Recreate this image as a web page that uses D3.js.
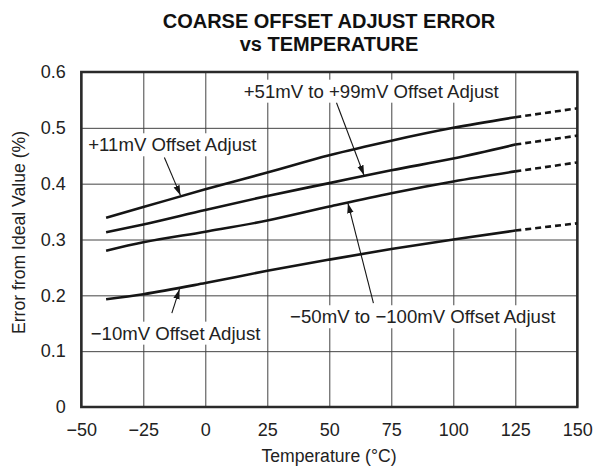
<!DOCTYPE html>
<html>
<head>
<meta charset="utf-8">
<script src="https://cdn.jsdelivr.net/npm/d3@7"></script>
<style>
body{margin:0;background:#fff;}
text{font-family:"Liberation Sans",Arial,Helvetica,sans-serif;fill:#222;}
</style>
</head>
<body>
<div id="container"></div>
<script>
// temperature (°C) and error (%)
const temps = [-40, -25, 0, 25, 50, 75, 100, 125, 150];
const errP11 = [0.339, 0.358, 0.390, 0.420, 0.451, 0.477, 0.500, 0.519, 0.535];
const errP51 = [0.313, 0.327, 0.353, 0.378, 0.401, 0.424, 0.445, 0.470, 0.486];
const errM50 = [0.280, 0.295, 0.314, 0.334, 0.359, 0.383, 0.404, 0.422, 0.438];
const errM10 = [0.193, 0.202, 0.222, 0.244, 0.264, 0.283, 0.300, 0.316, 0.329];
const seriesNames = ["+11mV Offset Adjust", "+51mV to +99mV Offset Adjust",
                     "\u221250mV to \u2212100mV Offset Adjust", "\u221210mV Offset Adjust"];
const xTicks = [-50, -25, 0, 25, 50, 75, 100, 125, 150];
const yTicks = [0, 0.1, 0.2, 0.3, 0.4, 0.5, 0.6];
const lastMeasured = 125; // dashed after this

// label anchors and arrows, in chart units (°C, %)
const labelAt   = [[-47.2, 0.458], [15.5, 0.554], [34.2, 0.150], [-46.2, 0.1206]];
const arrowFrom = [[-16.5, 0.447], [52.9, 0.545], [67.8, 0.186], [-13.5, 0.168]];
const arrowTo   = [[-10, 0.379], [64, 0.415], [57.5, 0.365], [-10.4, 0.211]];

const width = 593, height = 470;
const plotL = 81.3, plotR = 577.3, plotT = 72, plotB = 407;

const svg = d3.select("#container")
  .append("svg")
  .attr("width", width)
  .attr("height", height);

const x = d3.scaleLinear().domain([-50, 150]).range([plotL, plotR]);
const y = d3.scaleLinear().domain([0, 0.6]).range([plotB, plotT]);

// title, two lines
[["COARSE OFFSET ADJUST ERROR", 27.5], ["vs TEMPERATURE", 50.5]].forEach(t => {
  svg.append("text")
    .attr("x", 329).attr("y", t[1])
    .attr("text-anchor", "middle")
    .style("font-weight", "bold")
    .style("font-size", "20px")
    .style("fill", "#111")
    .text(t[0]);
});

// grid + ticks
const xAxis = d3.axisBottom(x).tickValues(xTicks).tickSize(-(plotB - plotT))
  .tickPadding(16.7).tickFormat(d3.format("d"));
const yAxis = d3.axisLeft(y).tickValues(yTicks).tickSize(-(plotR - plotL))
  .tickPadding(15.6).tickFormat(d => d === 0 ? "0" : d3.format(".1f")(d));

const gx = svg.append("g").attr("transform", "translate(0," + plotB + ")").call(xAxis);
const gy = svg.append("g").attr("transform", "translate(" + plotL + ",0)").call(yAxis);
[gx, gy].forEach(g => {
  g.select(".domain").remove();
  g.selectAll(".tick line").attr("stroke", "#444").attr("stroke-width", 1);
  g.selectAll(".tick text").style("font-size", "18px").style("font-family", "'Liberation Sans',Arial,sans-serif").attr("fill", "#222");
});

// axis titles
svg.append("text")
  .attr("x", 329).attr("y", 461.5)
  .attr("text-anchor", "middle")
  .style("font-size", "17.6px")
  .text("Temperature (\u00B0C)");

svg.append("text")
  .attr("transform", "translate(24.5,232.5) rotate(-90)")
  .attr("text-anchor", "middle")
  .style("font-size", "17.6px")
  .text("Error from Ideal Value (%)");

// labels with white boxes knocking out the grid
const labels = svg.append("g");
seriesNames.forEach((name, i) => {
  const g = labels.append("g");
  const t = g.append("text")
    .attr("x", x(labelAt[i][0]))
    .attr("y", y(labelAt[i][1]))
    .style("font-size", "18.6px")
    .text(name);
  const b = t.node().getBBox();
  g.insert("rect", "text")
    .attr("x", b.x - 3).attr("y", b.y - 1)
    .attr("width", b.width + 6).attr("height", b.height + 2)
    .attr("fill", "#fff");
});

// border
svg.append("rect")
  .attr("x", plotL).attr("y", plotT)
  .attr("width", plotR - plotL).attr("height", plotB - plotT)
  .attr("fill", "none")
  .attr("stroke", "#2a2a2a")
  .attr("stroke-width", 2.5);

// curves
const line = d3.line()
  .x(d => x(d[0]))
  .y(d => y(d[1]))
  .curve(d3.curveMonotoneX);

[errP11, errP51, errM50, errM10].forEach(vals => {
  const pts = temps.map((t, i) => [t, vals[i]]);
  svg.append("path")
    .datum(pts.filter(p => p[0] <= lastMeasured))
    .attr("d", line)
    .attr("fill", "none")
    .attr("stroke", "#151515")
    .attr("stroke-width", 2.6);
  svg.append("path")
    .datum(pts.filter(p => p[0] >= lastMeasured))
    .attr("d", line)
    .attr("fill", "none")
    .attr("stroke", "#151515")
    .attr("stroke-width", 2.6)
    .attr("stroke-dasharray", "6,4");
});

// arrows
svg.append("defs").append("marker")
  .attr("id", "head")
  .attr("markerUnits", "userSpaceOnUse")
  .attr("viewBox", "0 -4 10 8")
  .attr("refX", 10).attr("refY", 0)
  .attr("markerWidth", 10).attr("markerHeight", 8)
  .attr("orient", "auto")
  .append("path")
  .attr("d", "M0,-3.2L10,0L0,3.2Z")
  .attr("fill", "#151515");

arrowFrom.forEach((f, i) => {
  svg.append("line")
    .attr("x1", x(f[0])).attr("y1", y(f[1]))
    .attr("x2", x(arrowTo[i][0])).attr("y2", y(arrowTo[i][1]))
    .attr("stroke", "#151515")
    .attr("stroke-width", 1.1)
    .attr("marker-end", "url(#head)");
});
</script>
</body>
</html>
